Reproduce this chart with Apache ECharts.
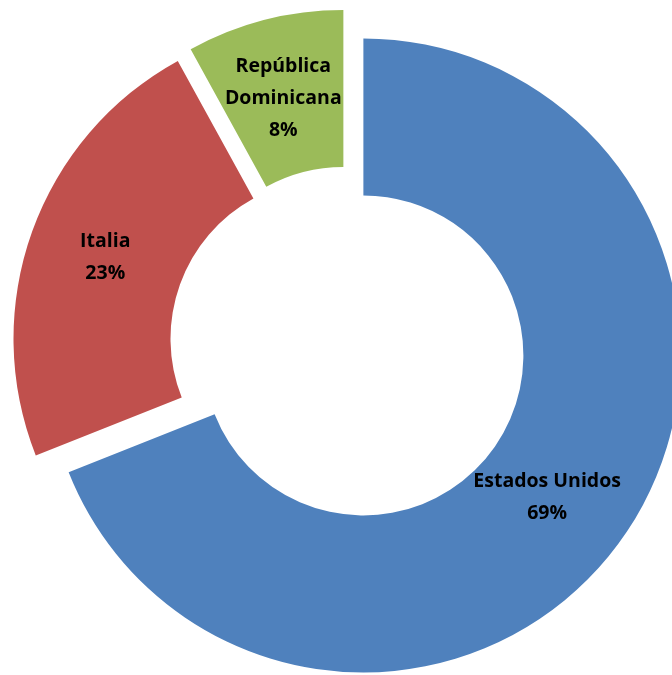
<!DOCTYPE html>
<html><head><meta charset="utf-8">
<style>html,body{margin:0;padding:0;background:#fff}#c{width:672px;height:675px}</style>
<script src="https://cdn.jsdelivr.net/npm/echarts@6/dist/echarts.min.js"></script>
</head><body><div id="c"></div>
<script>
const categories = ['Estados Unidos', 'Italia', 'República\nDominicana'];
const values = [69, 23, 8];
const colors = ['#4F81BD', '#C0504D', '#9BBB59'];
const labelPads = [[0, 32, 0, 0], [0, 0, 0, 4], [0, 0, 0, 0]];
const labelDrop = [12, 2, 10];

const chart = echarts.init(document.getElementById('c'), null, {renderer: 'canvas'});
chart.setOption({
  animation: false,
  series: [{
    type: 'pie',
    center: [348, 345],
    radius: [160, 317],
    startAngle: 90,
    clockwise: true,
    selectedMode: 'multiple',
    selectedOffset: 18.6,
    avoidLabelOverlap: false,
    emphasis: {scale: false},
    label: {
      show: true,
      position: 'inside',
      formatter: p => '{g| }\n' + p.name.split('\n').map(s => '{t|' + s + '}').join('\n') + '\n{t|' + p.value + '%}',
      color: '#000',
      fontWeight: 'bold',
      fontFamily: 'Open Sans',
      fontSize: 19.5,
      lineHeight: 32
    },
    labelLine: {show: false},
    data: categories.map((n, i) => ({name: n, value: values[i], selected: true,
      itemStyle: {color: colors[i]},
      label: {padding: labelPads[i], rich: {
        g: {fontSize: 1, lineHeight: labelDrop[i]},
        t: {color: '#000', fontWeight: 'bold', fontFamily: 'Open Sans', fontSize: 19.5, lineHeight: 32}
      }}}))
  }]
});
</script></body></html>
